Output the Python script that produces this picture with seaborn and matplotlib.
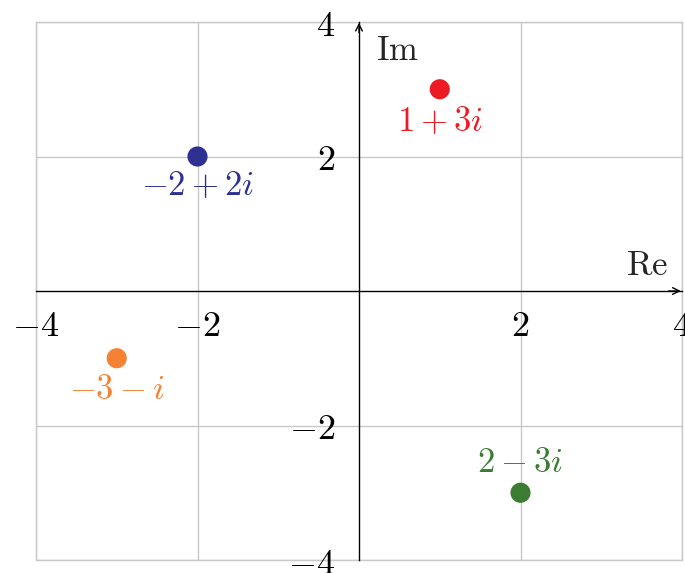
import matplotlib
matplotlib.use("Agg")
import matplotlib.pyplot as plt
import numpy as np
import pandas as pd
import seaborn as sns

# complex numbers to plot
labels = [r"$1+3i$", r"$-2+2i$", r"$-3-i$", r"$2-3i$"]
re_vals = [1, -2, -3, 2]
im_vals = [3, 2, -1, -3]
colors = ["#ED1C24", "#2E3192", "#F58232", "#3A7D32"]
label_dy = [-0.47, -0.43, -0.45, 0.46]

ticks = [-4, -2, 2, 4]

sns.set_theme(style="whitegrid")
plt.rcParams["font.family"] = ["DejaVu Serif"]
plt.rcParams["mathtext.fontset"] = "cm"

df = pd.DataFrame({"re": re_vals, "im": im_vals, "name": labels})

fig = plt.figure(figsize=(6.85, 5.73), dpi=100)
ax = fig.add_axes([36 / 685, 13 / 573, 646 / 685, 538 / 573])

sns.scatterplot(data=df, x="re", y="im", hue="name", palette=colors,
                s=210, edgecolor="none", legend=False, ax=ax, zorder=5, clip_on=False)

for x, y, t, c, dy in zip(re_vals, im_vals, labels, colors, label_dy):
    ax.text(x, y + dy, t, color=c, fontsize=25, ha="center", va="center")

ax.set_xlim(-4, 4)
ax.set_ylim(-4, 4)
ax.set_xticks(ticks, labels=[rf"${v}$" for v in ticks])
ax.set_yticks(ticks, labels=[rf"${v}$" for v in ticks])
ax.grid(True, color="#c8c8c8", linewidth=1.0)
for s in ["top", "right"]:
    ax.spines[s].set_visible(False)
ax.spines["left"].set_position("zero")
ax.spines["bottom"].set_position("zero")
ax.spines["left"].set_color("black")
ax.spines["bottom"].set_color("black")
ax.spines["left"].set_linewidth(1.0)
ax.spines["bottom"].set_linewidth(1.0)
ax.tick_params(axis="both", length=0, labelsize=26, colors="black")
ax.tick_params(axis="x", pad=13)
ax.tick_params(axis="y", pad=17)
ax.set_xlabel("")
ax.set_ylabel("")

# border lines at the limits (grid edges)
for v in [-4, 4]:
    ax.axvline(v, color="#c8c8c8", lw=1.0, zorder=0, clip_on=False)
    ax.axhline(v, color="#c8c8c8", lw=1.0, zorder=0, clip_on=False)

# arrow heads
ax.annotate("", xy=(4.02, 0), xytext=(3.8, 0),
            arrowprops=dict(arrowstyle="->", color="black", lw=1.0, mutation_scale=12),
            annotation_clip=False)
ax.annotate("", xy=(0, 4.03), xytext=(0, 3.8),
            arrowprops=dict(arrowstyle="->", color="black", lw=1.0, mutation_scale=12),
            annotation_clip=False)

ax.text(3.57, 0.39, r"$\mathrm{Re}$", fontsize=25, ha="center", va="center")
ax.text(0.47, 3.58, r"$\mathrm{Im}$", fontsize=25, ha="center", va="center")

fig.savefig("out.png", dpi=100)
